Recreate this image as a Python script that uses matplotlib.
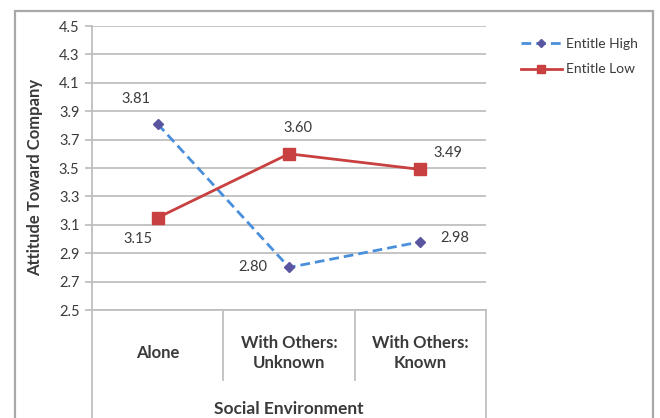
import matplotlib
matplotlib.use("Agg")
import matplotlib.pyplot as plt
from matplotlib.patches import Rectangle
import matplotlib.transforms as mtransforms

plt.rcParams['font.family'] = ['Lato', 'DejaVu Sans']

categories = ["Alone", "With Others:\nUnknown", "With Others:\nKnown"]
entitle_high = [3.81, 2.80, 2.98]
entitle_low = [3.15, 3.60, 3.49]
y_ticks = [2.5, 2.7, 2.9, 3.1, 3.3, 3.5, 3.7, 3.9, 4.1, 4.3, 4.5]
series_names = ["Entitle High", "Entitle Low"]

# label offsets in pixels (dx, dy) relative to each point
high_offsets = [(-22, 25), (-36, 0), (34, 4)]
low_offsets = [(-20, -21), (9, 26), (28, 16)]

DPI = 100
fig = plt.figure(figsize=(6.6, 4.18), dpi=DPI)
W, H = 660, 418

left, right, top, bottom = 92, 486, 26, 310
ax = fig.add_axes([left / W, 1 - bottom / H, (right - left) / W, (bottom - top) / H])

grid_col = "#bfbfbf"
text_col = "#3a3a3a"

x = [i + 0.5 for i in range(len(categories))]

ax.plot(x, entitle_high, color="#4a8fdc", lw=2.0, ls=(0, (3.5, 1.8)),
        marker="D", markersize=5.5, markerfacecolor="#5a55a0",
        markeredgecolor="#5a55a0", label=series_names[0], zorder=3)
ax.plot(x, entitle_low, color="#c8403f", lw=2.0,
        marker="s", markersize=8, markerfacecolor="#c8403f",
        markeredgecolor="#c8403f", label=series_names[1], zorder=3)

px = 72 / DPI
for xi, v, (dx, dy) in zip(x, entitle_high, high_offsets):
    ax.annotate(f"{v:.2f}", (xi, v), xytext=(dx * px, dy * px), textcoords="offset points",
                ha="center", va="center", fontsize=10.5, color=text_col)
for xi, v, (dx, dy) in zip(x, entitle_low, low_offsets):
    ax.annotate(f"{v:.2f}", (xi, v), xytext=(dx * px, dy * px), textcoords="offset points",
                ha="center", va="center", fontsize=10.5, color=text_col)

ax.set_xlim(0, 3)
ax.set_ylim(2.5, 4.5)
ax.set_yticks(y_ticks)
ax.set_yticklabels([f"{t:.1f}" for t in y_ticks])
ax.yaxis.grid(True, color=grid_col, lw=1.3)
ax.set_axisbelow(True)
ax.set_xticks([])
for s in ["top", "right"]:
    ax.spines[s].set_visible(False)
for s in ["left", "bottom"]:
    ax.spines[s].set_color(grid_col)
    ax.spines[s].set_linewidth(1.3)
ax.tick_params(axis="y", length=5, width=1.3, color=grid_col, labelsize=10.5,
               labelcolor=text_col, pad=4)

# category table below the plot area
blend = mtransforms.blended_transform_factory(ax.transData, ax.transAxes)
h_px = bottom - top
y_sep = -(380 - bottom) / h_px
y_end = -(H - bottom + 5) / h_px
for xv in [1, 2]:
    ax.plot([xv, xv], [0, y_sep], transform=blend, color=grid_col, lw=1.3, clip_on=False)
for xv in [0, 3]:
    ax.plot([xv, xv], [0, y_end], transform=blend, color=grid_col, lw=1.3, clip_on=False)

y_cat = -(353 - bottom) / h_px
for xi, c in zip(x, categories):
    ax.text(xi, y_cat, c, transform=blend, ha="center", va="center", fontsize=12,
            fontweight="bold", color=text_col, linespacing=1.3)

ax.text(1.5, -(409 - bottom) / h_px, "Social Environment", transform=blend,
        ha="center", va="center", fontsize=12.5, fontweight="bold", color=text_col)

fig.text(35 / W, 1 - 177 / H, "Attitude Toward Company", rotation=90, ha="center",
         va="center", fontsize=12, fontweight="bold", color=text_col)

leg = fig.legend(loc="upper left", bbox_to_anchor=(508 / W, 1 - 25 / H), frameon=False,
                 fontsize=10, handlelength=3.0, handletextpad=0.3, labelspacing=1.0,
                 labelcolor=text_col, markerscale=0.75)

# outer chart border
fig.patches.append(Rectangle((15 / W, -0.05), (653 - 15) / W, 1.05 - 11 / H,
                             transform=fig.transFigure, fill=False,
                             edgecolor="#a8a8a8", lw=1.6))

fig.savefig("out.png", dpi=DPI)
